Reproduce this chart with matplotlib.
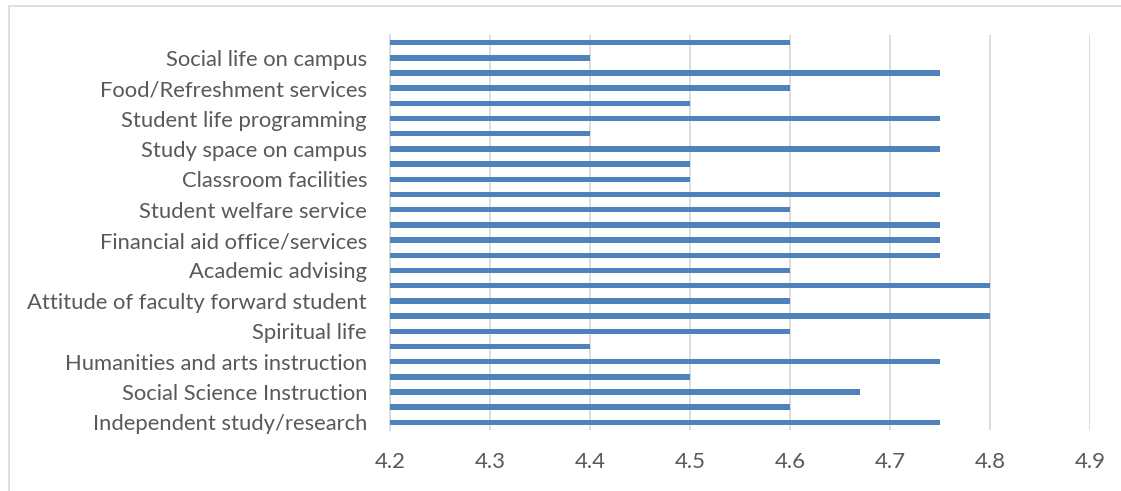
import numpy as np
import matplotlib.pyplot as plt
from matplotlib.patches import Rectangle

# bars listed bottom to top (26 bars, every other one labelled)
values = [4.75, 4.6, 4.67, 4.5, 4.75, 4.4, 4.6, 4.8, 4.6, 4.8,
          4.6, 4.75, 4.75, 4.75, 4.6, 4.75, 4.5, 4.5, 4.75, 4.4,
          4.75, 4.5, 4.6, 4.75, 4.4, 4.6]
labels = ["Independent study/research", "Social Science Instruction",
          "Humanities and arts instruction", "Spiritual life",
          "Attitude of faculty forward student", "Academic advising",
          "Financial aid office/services", "Student welfare service",
          "Classroom facilities", "Study space on campus",
          "Student life programming", "Food/Refreshment services",
          "Social life on campus"]
x_ticks = [4.2, 4.3, 4.4, 4.5, 4.6, 4.7, 4.8, 4.9]

plt.rcParams['font.family'] = ['Lato', 'DejaVu Sans']
text_color = '#595959'

fig = plt.figure(figsize=(11.21, 4.91), dpi=100)
ax = fig.add_axes([390 / 1121, 1 - 430 / 491, 700 / 1121, 395 / 491])

ypos = np.arange(len(values))
ax.barh(ypos, np.array(values) - 4.2, left=4.2, height=0.36,
        color='#4f81bd', zorder=3)

ax.set_xlim(4.2, 4.9)
ax.set_ylim(-0.5, len(values) - 0.5)
ax.set_xticks(x_ticks)
ax.set_xticklabels([f"{t:.1f}" for t in x_ticks], fontsize=16, color=text_color)
ax.set_yticks(ypos[::2])
ax.set_yticklabels(labels, fontsize=15.8, color=text_color)
ax.tick_params(axis='both', length=0)
ax.tick_params(axis='x', pad=15.5)
ax.tick_params(axis='y', pad=16.5)

ax.grid(axis='x', color='#d9d9d9', linewidth=1.3, zorder=0)
for side in ['top', 'right', 'bottom']:
    ax.spines[side].set_visible(False)
ax.spines['left'].set_color('#d9d9d9')
ax.spines['left'].set_linewidth(1.3)

fig.patches.append(Rectangle((9 / 1121, -0.01), 1.02 - 9 / 1121, 1 - 6 / 491 + 0.01,
                             transform=fig.transFigure, fill=False,
                             edgecolor='#d9d9d9', linewidth=1.2))

fig.savefig("out.png", dpi=100)
